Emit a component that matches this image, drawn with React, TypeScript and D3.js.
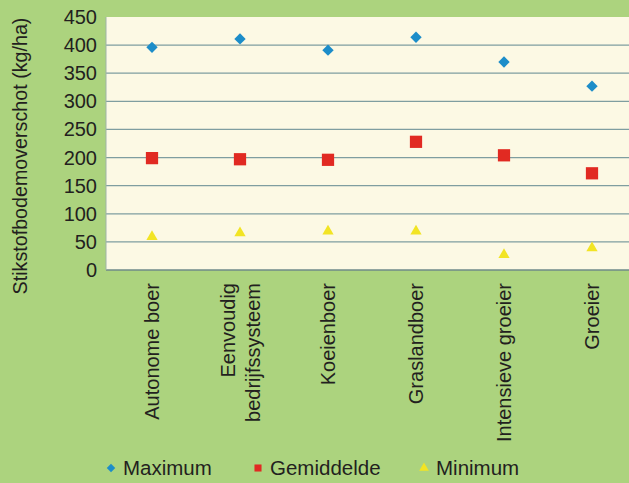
import React from "react";
import * as d3 from "d3";

const categories: string[][] = [
  ["Autonome boer"],
  ["Eenvoudig", "bedrijfssysteem"],
  ["Koeienboer"],
  ["Graslandboer"],
  ["Intensieve groeier"],
  ["Groeier"],
];
const maximum = [396, 411, 391, 414, 370, 327];
const gemiddelde = [199, 197, 196, 228, 204, 172];
const minimum = [59, 66, 69, 69, 27, 39];
const yTicks = [0, 50, 100, 150, 200, 250, 300, 350, 400, 450];
const legendLabels = ["Maximum", "Gemiddelde", "Minimum"];

const W = 629;
const H = 483;
const FONT = "'Liberation Sans Narrow', 'Liberation Sans', Arial, sans-serif";
const BLUE = "#1c8dc9";
const RED = "#e12a22";
const YELLOW = "#f2e424";

export default function App() {
  const plotLeft = 106;
  const plotRight = 629;
  const y = d3.scaleLinear().domain([0, 450]).range([270, 17]);
  const x = d3
    .scaleBand<number>()
    .domain(categories.map((_, i) => i))
    .range([108, 636]);
  const cx = (i: number) => (x(i) as number) + x.bandwidth() / 2;

  const diamond = d3.symbol().type(d3.symbolSquare).size(64)() as string;
  const square = d3.symbol().type(d3.symbolSquare).size(150)() as string;
  const triangle = d3.symbol().type(d3.symbolTriangle).size(55)() as string;

  const legendX = [111, 258, 424];
  const legendSyms = [
    { d: d3.symbol().type(d3.symbolSquare).size(36)() as string, c: BLUE, r: 45 },
    { d: d3.symbol().type(d3.symbolSquare).size(50)() as string, c: RED, r: 0 },
    { d: d3.symbol().type(d3.symbolTriangle).size(40)() as string, c: YELLOW, r: 0 },
  ];

  return (
    <svg
      width={W}
      height={H}
      style={{ position: "absolute", left: 0, top: 0 }}
      fontFamily={FONT}
    >
      <rect x={0} y={0} width={W} height={H} fill="#acd37e" />
      <rect
        x={plotLeft}
        y={y(450)}
        width={plotRight - plotLeft}
        height={y(0) - y(450)}
        fill="#fcf9e4"
      />
      {yTicks.map((t) => (
        <g key={t}>
          {t > 0 && t < 450 && (
            <line
              x1={plotLeft}
              x2={plotRight}
              y1={y(t)}
              y2={y(t)}
              stroke="#7f9ea0"
              strokeWidth={1.2}
            />
          )}
          <text
            x={97}
            y={y(t)}
            dy="0.35em"
            textAnchor="end"
            fontSize={20}
            fill="#231f20"
          >
            {t}
          </text>
        </g>
      ))}
      <line x1={plotLeft} x2={plotRight} y1={y(0)} y2={y(0)} stroke="#6f8a8a" strokeWidth={1.5} />
      <line x1={plotLeft} x2={plotLeft} y1={y(450)} y2={y(0)} stroke="#9fb3a8" strokeWidth={1} />

      <text
        transform={`translate(27,156) rotate(-90)`}
        textAnchor="middle"
        fontSize={19.7}
        fill="#231f20"
      >
        Stikstofbodemoverschot (kg/ha)
      </text>

      {categories.map((lines, i) => (
        <g key={i}>
          <path d={triangle} transform={`translate(${cx(i)},${y(minimum[i])})`} fill={YELLOW} />
          <path d={square} transform={`translate(${cx(i)},${y(gemiddelde[i])})`} fill={RED} />
          <path d={diamond} transform={`translate(${cx(i)},${y(maximum[i])}) rotate(45)`} fill={BLUE} />
          <text
            transform={`translate(${cx(i) + 7 - (lines.length - 1) * 12.5},283) rotate(-90)`}
            textAnchor="end"
            fontSize={20}
            fill="#231f20"
          >
            {lines.map((l, j) => (
              <tspan key={j} x={0} dy={j === 0 ? 0 : 25}>
                {l}
              </tspan>
            ))}
          </text>
        </g>
      ))}

      {legendLabels.map((l, i) => (
        <g key={l}>
          <path
            d={legendSyms[i].d}
            transform={`translate(${legendX[i]},468) rotate(${legendSyms[i].r})`}
            fill={legendSyms[i].c}
          />
          <text x={legendX[i] + 12} y={468} dy="0.35em" fontSize={20.5} fill="#231f20">
            {l}
          </text>
        </g>
      ))}
    </svg>
  );
}
